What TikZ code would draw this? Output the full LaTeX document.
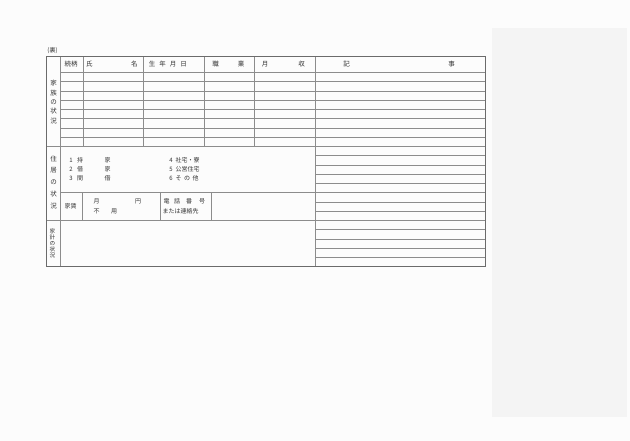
\documentclass[tikz,border=0pt]{standalone}
\usepackage{fontspec}
\newfontfamily\jp{Noto Sans CJK JP}
\begin{document}
\begin{tikzpicture}[x=1pt,y=-1pt,
  rule/.style={draw=black!45, line width=0.45pt},
  frame/.style={draw=black!58, line width=0.6pt},
  lbl/.style={inner sep=0pt, text=black!80, font=\jp\fontsize{6}{6.5}\selectfont},
  hdr/.style={lbl, font=\jp\fontsize{6.5}{7}\selectfont},
  stack/.style={lbl, align=center, font=\jp\fontsize{5.6}{6}\selectfont}]
\useasboundingbox (0,0) rectangle (630,441);
\fill[fill={rgb,255:red,252;green,252;blue,252}] (0,0) rectangle (630,441);
\fill[fill={rgb,255:red,244;green,244;blue,244}] (492,28) rectangle (627,416.7);
% horizontal rules
\draw[rule] (60.7,72.3) -- (485.7,72.3);
\foreach \k in {1,...,7} \draw[rule] (60.7,72.3+\k*9.26) -- (315,72.3+\k*9.26);
\foreach \k in {1,...,20} \draw[rule] (315,72.3+\k*9.26) -- (485.7,72.3+\k*9.26);
\draw[rule] (46.7,146.38) -- (315,146.38);
\draw[rule] (60.7,192.68) -- (315,192.68);
\draw[rule] (46.7,220.46) -- (315,220.46);
% vertical rules
\draw[rule] (60.7,56.7) -- (60.7,266.76);
\draw[rule] (315,56.7) -- (315,266.76);
\foreach \xx in {83.3,143.3,204.3,254.3} \draw[rule] (\xx,56.7) -- (\xx,146.38);
\foreach \xx in {82.7,160,211.7} \draw[rule] (\xx,192.68) -- (\xx,220.46);
% frame
\draw[frame] (46.7,56.7) rectangle (485.7,266.76);
% texts
\node[lbl] (ura) at (52.5,51) {(裏)};
\node[hdr] (zok) at (71,64.3) {続柄};
\node[hdr] (shi) at (89.3,64.3) {氏};
\node[hdr] (mei) at (134.3,64.3) {名};
\node[hdr] (sei) at (152,64.3) {生};
\node[hdr] (nen) at (162.5,64.3) {年};
\node[hdr] (tsk) at (173,64.3) {月};
\node[hdr] (hi) at (183.5,64.3) {日};
\node[hdr] (sho) at (215.7,64.3) {職};
\node[hdr] (gyo) at (241,64.3) {業};
\node[hdr] (gets) at (265,64.3) {月};
\node[hdr] (shu) at (301.7,64.3) {収};
\node[hdr] (ki) at (346.7,64.3) {記};
\node[hdr] (ji) at (451.7,64.3) {事};
% family label
\foreach \c/\yy [count=\i] in {家/83.3,族/92.7,の/102,状/111.3,況/120.7}
  \node[hdr] (fam\i) at (53.7,\yy) {\c};
% housing label
\foreach \c/\yy [count=\i] in {住/159,居/170.7,の/182.3,状/194,況/205.7}
  \node[hdr] (hou\i) at (53.7,\yy) {\c};
% budget label
\node[stack] (kakei) at (52.5,243) {家\\計\\の\\状\\況};
% housing options
\node[lbl] (n1) at (71,160.5) {1};
\node[lbl] (n2) at (71,169.5) {2};
\node[lbl] (n3) at (71,178.5) {3};
\node[lbl] (o1a) at (80,160.5) {持};
\node[lbl] (o2a) at (80,169.5) {借};
\node[lbl] (o3a) at (80,178.5) {間};
\node[lbl] (o1b) at (107.5,160.5) {家};
\node[lbl] (o2b) at (107.5,169.5) {家};
\node[lbl] (o3b) at (107.5,178.5) {借};
\node[lbl] (n4) at (171,160.5) {4};
\node[lbl] (n5) at (171,169.5) {5};
\node[lbl] (n6) at (171,178.5) {6};
\node[lbl, anchor=west] (o4) at (175.5,160.5) {社宅・寮};
\node[lbl, anchor=west] (o5) at (175.5,169.5) {公営住宅};
\node[lbl, anchor=west] (o6) at (175.5,178.5) {そ\hspace{2.5pt}の\hspace{2.5pt}他};
% rent row
\node[lbl] (yachin) at (70.5,206.5) {家賃};
\node[lbl] (tsuki) at (96.5,201.7) {月};
\node[lbl] (en) at (138,201.7) {円};
\node[lbl] (fu) at (96.5,211.5) {不};
\node[lbl] (yo) at (114,211.5) {用};
\node[lbl] (den) at (166.5,201.7) {電};
\node[lbl] (wa) at (177,201.7) {話};
\node[lbl] (ban) at (189,201.7) {番};
\node[lbl] (go) at (202,201.7) {号};
\node[lbl, anchor=west] (renraku) at (162.5,211.5) {または連絡先};
\end{tikzpicture}
\end{document}
